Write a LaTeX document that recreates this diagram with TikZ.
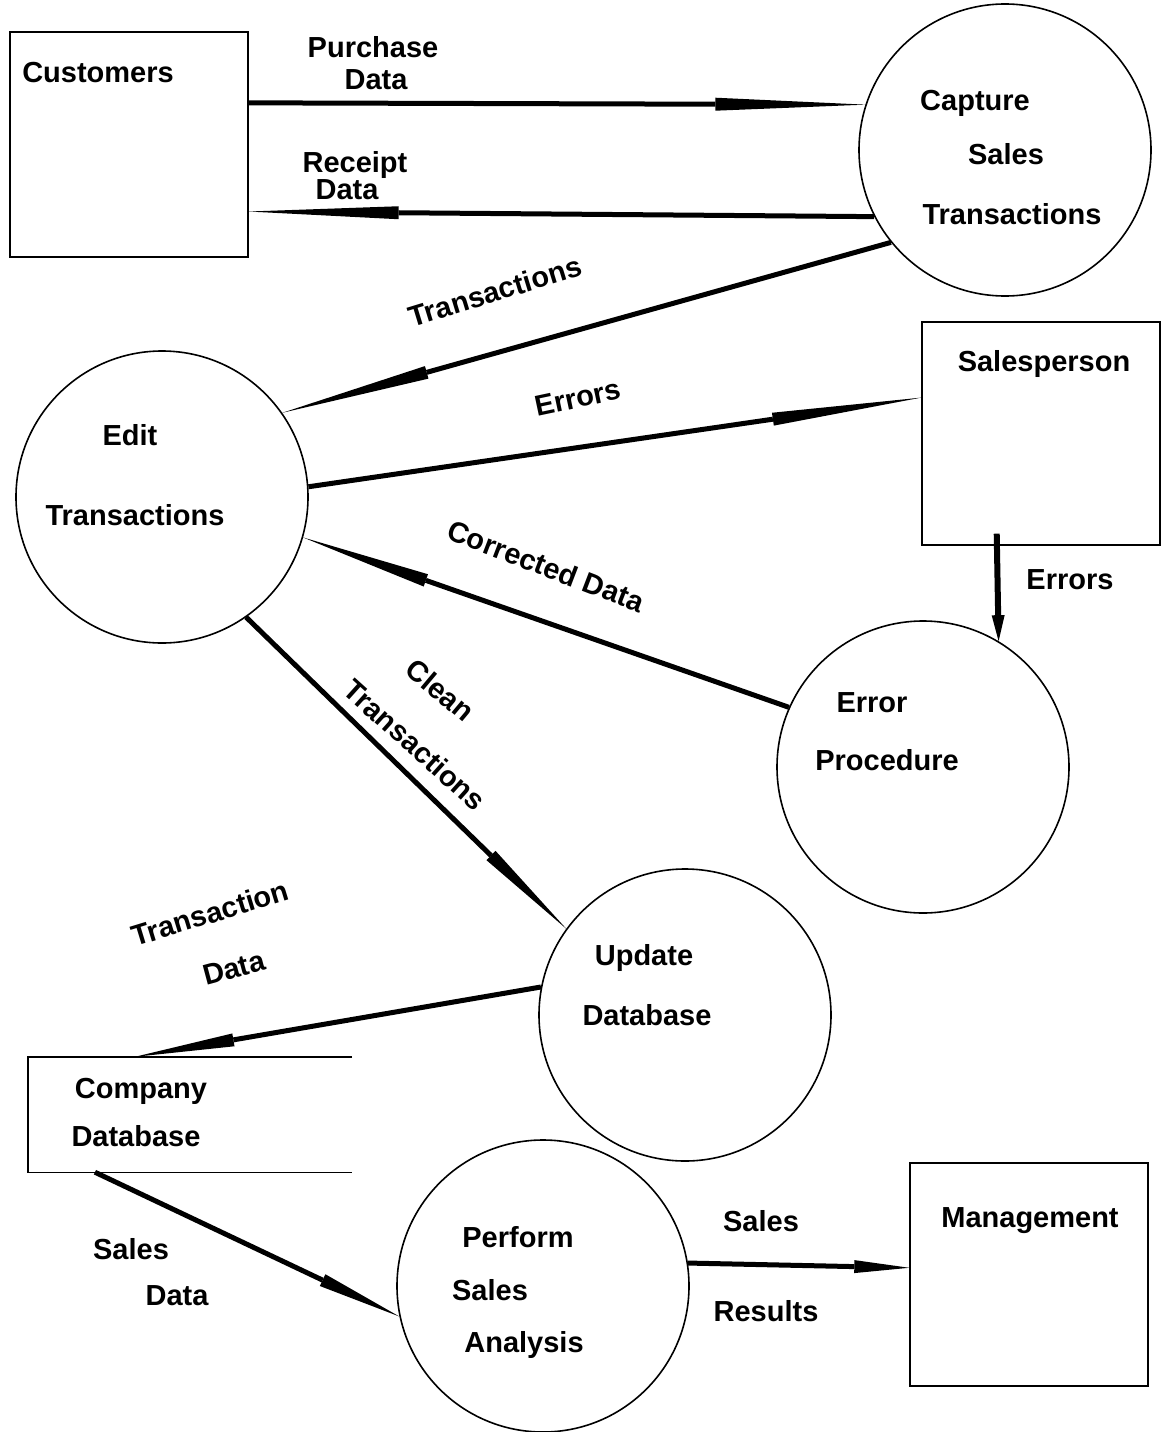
\documentclass[tikz,border=0pt]{standalone}
\usepackage{fontspec}
\setmainfont{Liberation Sans}
\usetikzlibrary{arrows.meta,calc}
\begin{document}
\begin{tikzpicture}[x=1pt,y=-1pt,
  proc/.style={circle,draw,line width=1.6pt,minimum size=292pt,inner sep=0pt},
  ent/.style={rectangle,draw,line width=1.4pt,inner sep=0pt},
  lbl/.style={font=\bfseries\fontsize{29}{32}\selectfont,inner sep=0pt,anchor=base},
  rlbl/.style={font=\bfseries\fontsize{29}{32}\selectfont,inner sep=0pt,anchor=center},
  dflow/.style={line width=5pt,-{Triangle[length=#1,width=13pt,line width=0pt]}},
]
\useasboundingbox[fill=white] (0,0) rectangle (1162,1432);

% entities
\node[ent,minimum width=238pt,minimum height=225pt] (cust) at (129,144.5) {};
\node[ent,minimum width=238pt,minimum height=223pt] (sp) at (1041,433.5) {};
\node[ent,minimum width=238pt,minimum height=223pt] (mgmt) at (1029,1274.5) {};
\node[rectangle,inner sep=0pt,minimum width=324pt,minimum height=115pt] (cdb) at (190,1114.5) {};
\draw[line width=1.4pt] (cdb.north east) -- (cdb.north west) -- (cdb.south west) -- (cdb.south east);

% processes
\node[proc] (cap) at (1005,150) {};
\node[proc] (edit) at (162,497) {};
\node[proc] (err) at (923,767) {};
\node[proc] (upd) at (685,1015) {};
\node[proc] (perf) at (543,1286) {};

% texts in shapes
\node[lbl] (tcust) at (98,82) {Customers};
\node[lbl] (tcap1) at (975,110) {Capture};
\node[lbl] (tcap2) at (1006,164) {Sales};
\node[lbl] (tcap3) at (1012,224) {Transactions};
\node[lbl] (tsp) at (1044,371) {Salesperson};
\node[lbl] (tedit1) at (130,445) {Edit};
\node[lbl] (tedit2) at (135,525) {Transactions};
\node[lbl] (terr1) at (872,712) {Error};
\node[lbl] (terr2) at (887,770) {Procedure};
\node[lbl] (tupd1) at (644,965) {Update};
\node[lbl] (tupd2) at (647,1025) {Database};
\node[lbl] (tcdb1) at (141,1098) {Company};
\node[lbl] (tcdb2) at (136,1146) {Database};
\node[lbl] (tperf1) at (518,1247) {Perform};
\node[lbl] (tperf2) at (490,1300) {Sales};
\node[lbl] (tperf3) at (524,1352) {Analysis};
\node[lbl] (tmgmt) at (1030,1227) {Management};

% flows
\coordinate (spb) at ($(sp.south west)!0.315!(sp.south east)$);
\draw[dflow=150pt] ($(cust.north east)!0.316!(cust.south east)$) -- (cap.162);
\draw[dflow=150pt] (cap.207) -- ($(cust.north east)!0.796!(cust.south east)$);
\draw[dflow=150pt] (cap.219) -- (edit.35);
\draw[dflow=150pt] (edit.4) -- ($(sp.north west)!0.34!(sp.south west)$);
\draw[dflow=130pt] (err.156) -- (edit.-16);
\draw[line width=6pt,-{Triangle[length=26pt,width=13pt,line width=0pt]}] ([yshift=12pt]spb) -- (err.59);
\draw[dflow=105pt] (edit.-55) -- (upd.144);
\draw[dflow=100pt] (upd.169) -- ($(cdb.north west)!0.33!(cdb.north east)$);
\draw[dflow=85pt] ($(cdb.south west)!0.207!(cdb.south east)$) -- (perf.192);
\draw[dflow=55pt] (perf.9) -- ($(mgmt.north west)!0.47!(mgmt.south west)$);

% flow labels
\node[lbl] (lpd1) at (373,57) {Purchase};
\node[lbl] (lpd2) at (376,89) {Data};
\node[lbl] (lrd1) at (355,172) {Receipt};
\node[lbl] (lrd2) at (347,199) {Data};
\node[rlbl,rotate=17] (ltr) at (495,291) {Transactions};
\node[rlbl,rotate=12] (lerr) at (578,398) {Errors};
\node[rlbl,rotate=-21] (lcd) at (546,566) {Corrected Data};
\node[lbl] (lerr2) at (1070,589) {Errors};
\node[rlbl,rotate=-40] (lcl1) at (440,690) {Clean};
\node[rlbl,rotate=-42] (lcl2) at (415,745) {Transactions};
\node[rlbl,rotate=17] (ltd1) at (210,913) {Transaction};
\node[rlbl,rotate=15] (ltd2) at (234,968) {Data};
\node[lbl] (lsd1) at (131,1259) {Sales};
\node[lbl] (lsd2) at (177,1305) {Data};
\node[lbl] (lsr1) at (761,1231) {Sales};
\node[lbl] (lsr2) at (766,1321) {Results};
\end{tikzpicture}
\end{document}
